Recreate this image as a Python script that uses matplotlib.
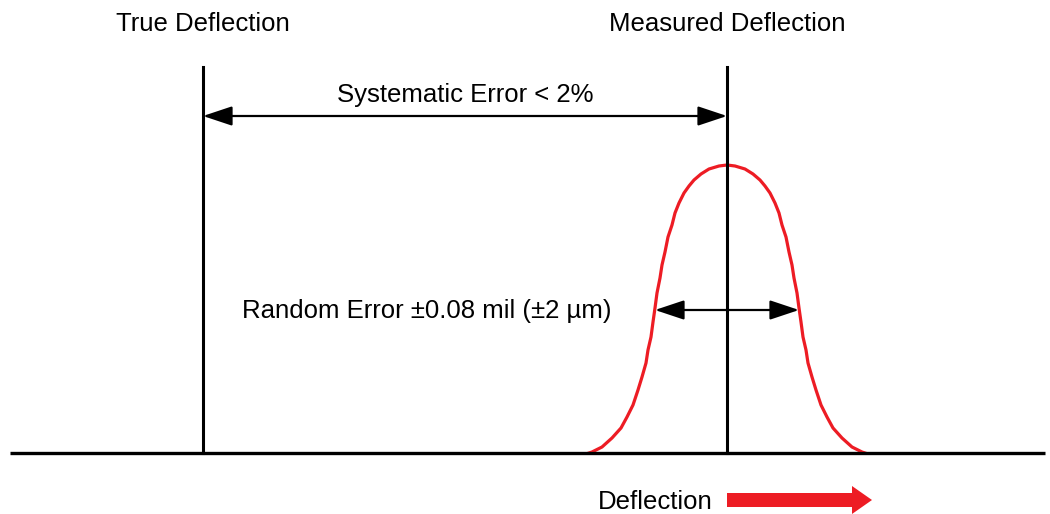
import numpy as np
import matplotlib
matplotlib.use("Agg")
import matplotlib.pyplot as plt

plt.rcParams['font.family'] = ['Liberation Sans', 'DejaVu Sans']

# positions along the deflection axis (px-like units)
true_x = 203
measured_x = 727
line_top = 386
baseline_x = [10, 1045]

# half profile of the distribution: offset from centre, height above baseline
profile_off = [0, 8, 18, 26, 33, 38, 43, 48, 52, 55, 59, 62, 65, 67, 70, 72,
               74, 76, 79, 81, 85, 89, 94, 100, 106, 115, 125, 135, 138]
profile_h = [288, 287, 284, 279, 273, 267, 260, 250, 240, 228, 216, 201, 188,
             175, 160, 145, 131, 116, 103, 90, 76, 63, 48, 36, 25, 15, 6, 1, 0]

sys_y = 337
rand_y = 143
rand_half = 72

labels = ["True Deflection", "Measured Deflection"]
sys_label = "Systematic Error < 2%"
rand_label = "Random Error \u00b10.08 mil (\u00b12 \u00b5m)"
axis_label = "Deflection"

red = '#ed1c24'

fig = plt.figure(figsize=(10.5, 5.14), dpi=100)
ax = fig.add_axes([0, 0, 1, 1])
ax.set_xlim(0, 1050)
ax.set_ylim(-61, 453)
ax.axis('off')

# baseline and the two vertical markers
ax.plot(baseline_x, [0, 0], color='black', lw=2.4, solid_capstyle='butt')
ax.plot([true_x, true_x], [0, line_top], color='black', lw=2.2)
ax.plot([measured_x, measured_x], [0, line_top], color='black', lw=2.2)

# red distribution curve (mirror of the measured half profile)
off = np.array(profile_off)
h = np.array(profile_h)
cx = np.concatenate([measured_x - off[::-1], measured_x + off[1:]])
cy = np.concatenate([h[::-1], h[1:]])
ax.plot(cx, cy, color=red, lw=2.3, zorder=1, solid_joinstyle='round')

arrow = dict(arrowstyle='<|-|>,head_length=1.8,head_width=0.6', lw=1.6,
             color='black', shrinkA=0, shrinkB=0, mutation_scale=10)
ax.annotate('', xy=(measured_x, sys_y), xytext=(true_x, sys_y), arrowprops=arrow)
ax.annotate('', xy=(measured_x + rand_half, rand_y),
            xytext=(measured_x - rand_half, rand_y), arrowprops=arrow)

fs = 18.5
ax.text(true_x, 429, labels[0], ha='center', va='center', fontsize=fs)
ax.text(measured_x, 429, labels[1], ha='center', va='center', fontsize=fs)
ax.text(465, 358, sys_label, ha='center', va='center', fontsize=fs)
ax.text(427, 142, rand_label, ha='center', va='center', fontsize=fs)
ax.text(655, -49, axis_label, ha='center', va='center', fontsize=fs)

ax.arrow(measured_x, -47, 145, 0, width=14, head_width=28, head_length=20,
         length_includes_head=True, color=red, lw=0)

fig.savefig('out.png', dpi=100)
